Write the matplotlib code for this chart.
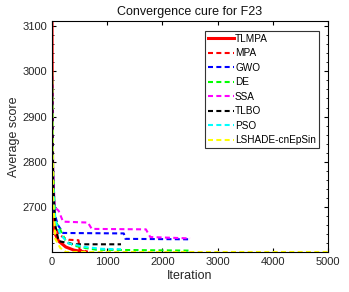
import matplotlib.pyplot as plt
from matplotlib.ticker import AutoMinorLocator

plt.rcParams['font.family'] = ['Liberation Sans', 'DejaVu Sans']

# convergence data (iteration breakpoints, average score)
tlmpa_it = [0, 5, 15, 30, 60, 120, 250, 400, 600, 625]
tlmpa_val = [3110, 2900, 2720, 2660, 2640, 2625, 2612, 2605, 2601, 2601]

mpa_it = [0, 20, 60, 120, 250, 300, 480, 500, 625]
mpa_val = [3000, 2760, 2660, 2640, 2630, 2628, 2627, 2606, 2603]

gwo_it = [0, 15, 40, 100, 200, 1300, 1330, 2500]
gwo_val = [2990, 2800, 2690, 2662, 2643, 2642, 2630, 2629]

de_it = [0, 20, 60, 150, 250, 400, 600, 800, 2500]
de_val = [3000, 2780, 2670, 2650, 2625, 2615, 2610, 2606, 2604]

ssa_it = [0, 20, 50, 120, 200, 650, 720, 1700, 1780, 2500]
ssa_val = [2990, 2780, 2700, 2692, 2668, 2666, 2652, 2651, 2634, 2631]

tlbo_it = [0, 20, 60, 120, 400, 1250]
tlbo_val = [2990, 2760, 2660, 2625, 2618, 2618]

pso_it = [0, 20, 60, 150, 300, 600, 900, 1250]
pso_val = [3000, 2750, 2670, 2640, 2620, 2612, 2608, 2607]

lshade_it = [0, 20, 60, 150, 250, 5000]
lshade_val = [3000, 2720, 2630, 2610, 2601, 2601]

fig = plt.figure(figsize=(3.49, 2.92), dpi=100)
ax = fig.add_axes([0.149, 0.137, 0.791, 0.791])

dash = (2.4, 1.6)
ax.plot(tlmpa_it, tlmpa_val, color='red', lw=2.2, label='TLMPA')
ax.plot(mpa_it, mpa_val, '--', dashes=dash, color='red', lw=1.5, label='MPA')
ax.plot(gwo_it, gwo_val, '--', dashes=dash, color='blue', lw=1.5, label='GWO')
ax.plot(de_it, de_val, '--', dashes=dash, color='#00ff00', lw=1.5, label='DE')
ax.plot(ssa_it, ssa_val, '--', dashes=dash, color='magenta', lw=1.5, label='SSA')
ax.plot(tlbo_it, tlbo_val, '--', dashes=dash, color='black', lw=1.5, label='TLBO')
ax.plot(pso_it, pso_val, '--', dashes=dash, color='cyan', lw=1.5, label='PSO')
ax.plot(lshade_it, lshade_val, '--', dashes=dash, color='yellow', lw=1.5, label='LSHADE-cnEpSin')

ax.set_xlim(0, 5000)
ax.set_ylim(2601, 3111)
ax.set_xticks([0, 1000, 2000, 3000, 4000, 5000])
ax.set_yticks([2700, 2800, 2900, 3000, 3100])
ax.yaxis.set_minor_locator(AutoMinorLocator(5))
ax.tick_params(which='both', direction='in', top=True, right=True, labelsize=8,
               colors='black', labelcolor='#262626')
ax.tick_params(which='major', length=3)
ax.tick_params(which='minor', length=1.5)
for s in ax.spines.values():
    s.set_linewidth(0.8)

ax.set_title('Convergence cure for F23', fontsize=9, pad=4, color='#111111')
ax.set_xlabel('Iteration', fontsize=9, labelpad=2, color='#262626')
ax.set_ylabel('Average score', fontsize=9, labelpad=2, color='#262626')

leg = ax.legend(loc='upper right', fontsize=7.2, handlelength=2.6, handletextpad=0.1,
                labelspacing=0.45, borderpad=0.3, fancybox=False, framealpha=1,
                edgecolor='#333333', bbox_to_anchor=(0.985, 0.98))
leg.get_frame().set_linewidth(0.8)

fig.savefig('out.png', dpi=100)
